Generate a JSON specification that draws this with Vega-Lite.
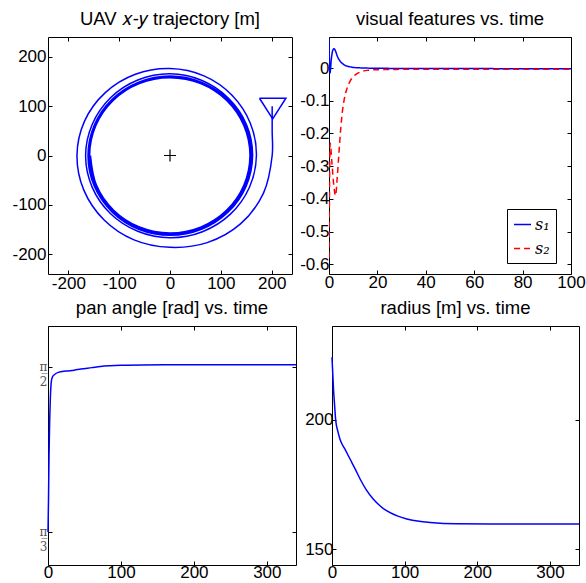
{
  "$schema": "https://vega.github.io/schema/vega-lite/v6.json",
  "padding": {"left": 0, "top": 9, "right": 0, "bottom": 0},
  "background": "white",
  "datasets": {
    "traj": [
      {"i":0,"x":201,"y":100},{"i":1,"x":201,"y":50},{"i":2,"x":201,"y":0},
      {"i":3,"x":183.9,"y":-76.2},{"i":4,"x":138.6,"y":-138.6},{"i":5,"x":73.1,"y":-176.5},{"i":6,"x":0,"y":-186},
      {"i":7,"x":-70.8,"y":-170.9},{"i":8,"x":-130.1,"y":-130.1},{"i":9,"x":-169.5,"y":-70.2},{"i":10,"x":-183,"y":0},
      {"i":11,"x":-168.1,"y":69.7},{"i":12,"x":-127.3,"y":127.3},{"i":13,"x":-68.1,"y":164.5},{"i":14,"x":0,"y":176},
      {"i":15,"x":66.8,"y":161.2},{"i":16,"x":122,"y":122},{"i":17,"x":158,"y":65.4},{"i":18,"x":170,"y":0},
      {"i":19,"x":156.1,"y":-64.7},{"i":20,"x":118.8,"y":-118.8},{"i":21,"x":63.9,"y":-154.3},{"i":22,"x":0,"y":-166.5},
      {"i":23,"x":-63.5,"y":-153.4},{"i":24,"x":-117.4,"y":-117.4},{"i":25,"x":-153.4,"y":-63.5},{"i":26,"x":-166,"y":0},
      {"i":27,"x":-152.9,"y":63.3},{"i":28,"x":-117,"y":117},{"i":29,"x":-63.3,"y":152.9},{"i":30,"x":0,"y":165.5},
      {"i":31,"x":63,"y":152},{"i":32,"x":115.6,"y":115.6},{"i":33,"x":150.6,"y":62.4},{"i":34,"x":162.5,"y":0},
      {"i":35,"x":149.9,"y":-62.1},{"i":36,"x":114.6,"y":-114.6},{"i":37,"x":62,"y":-149.6},{"i":38,"x":0,"y":-161.7},
      {"i":39,"x":-61.8,"y":-149.3},{"i":40,"x":-114.2,"y":-114.2},{"i":41,"x":-149.1,"y":-61.8},{"i":42,"x":-161.3,"y":0},
      {"i":43,"x":-148.9,"y":61.7},{"i":44,"x":-113.9,"y":113.9},{"i":45,"x":-61.6,"y":148.7},{"i":46,"x":0,"y":160.9},
      {"i":47,"x":61.5,"y":148.6},{"i":48,"x":113.6,"y":113.6},{"i":49,"x":148.4,"y":61.5},{"i":50,"x":160.5,"y":0},
      {"i":51,"x":148.2,"y":-61.4},{"i":52,"x":113.3,"y":-113.3},{"i":53,"x":61.3,"y":-148},{"i":54,"x":0,"y":-160.1},
      {"i":55,"x":-61.2,"y":-147.8},{"i":56,"x":-113.1,"y":-113.1},{"i":57,"x":-147.6,"y":-61.2},{"i":58,"x":-159.7,"y":0},
      {"i":59,"x":-147.5,"y":61.1},{"i":60,"x":-112.8,"y":112.8},{"i":61,"x":-61,"y":147.3},{"i":62,"x":0,"y":159.3},
      {"i":63,"x":60.9,"y":147.1},{"i":64,"x":112.5,"y":112.5},{"i":65,"x":146.9,"y":60.8},{"i":66,"x":158.9,"y":0},
      {"i":67,"x":146.7,"y":-60.8},{"i":68,"x":112.2,"y":-112.2},{"i":69,"x":60.7,"y":-146.5},{"i":70,"x":0,"y":-158.5},
      {"i":71,"x":-60.6,"y":-146.3},{"i":72,"x":-111.9,"y":-111.9},{"i":73,"x":-146.2,"y":-60.5},{"i":74,"x":-158.1,"y":0},
      {"i":75,"x":-146,"y":60.5},{"i":76,"x":-111.7,"y":111.7},{"i":77,"x":-60.4,"y":145.8},{"i":78,"x":0,"y":157.7},
      {"i":79,"x":60.3,"y":145.6},{"i":80,"x":111.4,"y":111.4},{"i":81,"x":145.4,"y":60.2},{"i":82,"x":157.3,"y":0},
      {"i":83,"x":145.2,"y":-60.2},{"i":84,"x":111.1,"y":-111.1},{"i":85,"x":60.1,"y":-145.1},{"i":86,"x":0,"y":-156.9},
      {"i":87,"x":-60,"y":-144.9},{"i":88,"x":-110.8,"y":-110.8},{"i":89,"x":-144.7,"y":-59.9},{"i":90,"x":-156.5,"y":0}
    ],
    "tri": [
      {"i":0,"x":176,"y":116},{"i":1,"x":228,"y":116},{"i":2,"x":202,"y":74},{"i":3,"x":176,"y":116}
    ],
    "center": [{"x":0,"y":0}],
    "feat": [
      {"t":0,"v":0.09,"s":"s₁"},{"t":0.4,"v":-0.015,"s":"s₁"},{"t":1,"v":0.03,"s":"s₁"},{"t":1.6,"v":0.055,"s":"s₁"},
      {"t":2.1,"v":0.059,"s":"s₁"},{"t":2.7,"v":0.052,"s":"s₁"},{"t":3.4,"v":0.037,"s":"s₁"},{"t":4.5,"v":0.022,"s":"s₁"},
      {"t":5.5,"v":0.014,"s":"s₁"},{"t":7,"v":0.007,"s":"s₁"},{"t":8.5,"v":0.004,"s":"s₁"},{"t":10,"v":0.002,"s":"s₁"},
      {"t":12,"v":0.001,"s":"s₁"},{"t":15,"v":0,"s":"s₁"},{"t":25,"v":-0.001,"s":"s₁"},{"t":50,"v":-0.0015,"s":"s₁"},
      {"t":100,"v":-0.002,"s":"s₁"},
      {"t":0,"v":-0.58,"s":"s₂"},{"t":0.5,"v":-0.23,"s":"s₂"},{"t":1.2,"v":-0.29,"s":"s₂"},{"t":2,"v":-0.36,"s":"s₂"},
      {"t":2.7,"v":-0.39,"s":"s₂"},{"t":3.4,"v":-0.335,"s":"s₂"},{"t":4.1,"v":-0.26,"s":"s₂"},{"t":4.8,"v":-0.19,"s":"s₂"},
      {"t":5.5,"v":-0.135,"s":"s₂"},{"t":6.2,"v":-0.1,"s":"s₂"},{"t":7.2,"v":-0.068,"s":"s₂"},{"t":8.3,"v":-0.046,"s":"s₂"},
      {"t":9.6,"v":-0.03,"s":"s₂"},{"t":11,"v":-0.02,"s":"s₂"},{"t":13,"v":-0.012,"s":"s₂"},{"t":16,"v":-0.007,"s":"s₂"},
      {"t":20,"v":-0.005,"s":"s₂"},{"t":30,"v":-0.004,"s":"s₂"},{"t":100,"v":-0.004,"s":"s₂"}
    ],
    "pan": [
      {"t":0,"v":1.047},{"t":0.7,"v":1.15},{"t":1.4,"v":1.29},{"t":2.3,"v":1.40},{"t":3.2,"v":1.47},{"t":4.5,"v":1.523},
      {"t":6,"v":1.538},{"t":9,"v":1.546},{"t":14,"v":1.553},{"t":25,"v":1.557},{"t":36,"v":1.56},{"t":45,"v":1.5635},
      {"t":60,"v":1.568},{"t":72,"v":1.5718},{"t":85,"v":1.574},{"t":100,"v":1.5755},{"t":130,"v":1.5765},{"t":200,"v":1.577},
      {"t":340,"v":1.577}
    ],
    "rad": [
      {"t":0,"r":224},{"t":1,"r":218},{"t":2,"r":212},{"t":3.2,"r":207},{"t":5,"r":200},{"t":8,"r":195.5},{"t":11,"r":192.4},
      {"t":18,"r":188.5},{"t":25,"r":184.7},{"t":32,"r":180.9},{"t":38.5,"r":177.2},{"t":47,"r":173},{"t":57,"r":169.3},
      {"t":66,"r":166.8},{"t":75,"r":164.9},{"t":89,"r":163},{"t":103,"r":161.7},{"t":120,"r":160.8},{"t":135,"r":160.4},
      {"t":171,"r":159.9},{"t":220,"r":159.8},{"t":340,"r":159.8}
    ]
  },
  "spacing": 6,
  "resolve": {"legend": {"color": "independent", "strokeDash": "independent"}},
  "vconcat": [
    {
      "spacing": 0,
      "resolve": {"legend": {"color": "independent", "strokeDash": "independent"}},
      "hconcat": [
        {
          "width": 244, "height": 237,
          "title": "UAV 𝑥-𝑦 trajectory [m]",
          "resolve": {"axis": {"x": "independent", "y": "independent"}},
          "layer": [
            {
              "data": {"name": "traj"},
              "mark": {"type": "line", "color": "#0000ff", "strokeWidth": 1.5, "interpolate": "catmull-rom"},
              "encoding": {
                "x": {"field": "x", "type": "quantitative", "scale": {"domain": [-240, 240], "nice": false, "zero": false},
                      "axis": {"title": null, "values": [-200, -100, 0, 100, 200], "labelExpr": "replace(datum.label, '−', '-')", "labelPadding": 5}},
                "y": {"field": "y", "type": "quantitative", "scale": {"domain": [-240, 240], "nice": false, "zero": false},
                      "axis": {"title": null, "values": [-200, -100, 0, 100, 200], "labelExpr": "replace(datum.label, '−', '-')", "labelPadding": 6, "minExtent": 46, "maxExtent": 46}},
                "order": {"field": "i", "type": "quantitative"}
              }
            },
            {
              "data": {"name": "tri"},
              "mark": {"type": "line", "color": "#0000ff", "strokeWidth": 1.5},
              "encoding": {
                "x": {"field": "x", "type": "quantitative", "axis": null},
                "y": {"field": "y", "type": "quantitative", "axis": null},
                "order": {"field": "i", "type": "quantitative"}
              }
            },
            {
              "data": {"name": "center"},
              "mark": {"type": "point", "shape": "M-1,0H1M0,-1V1", "size": 144, "filled": false, "stroke": "black", "strokeWidth": 1.2, "opacity": 1},
              "encoding": {
                "x": {"field": "x", "type": "quantitative", "axis": null},
                "y": {"field": "y", "type": "quantitative", "axis": null}
              }
            },
            {
              "data": {"name": "traj"},
              "mark": {"type": "line", "strokeOpacity": 0},
              "encoding": {
                "x": {"field": "x", "type": "quantitative", "axis": {"orient": "top", "labels": false, "title": null, "values": [-200, -100, 0, 100, 200], "minExtent": 0, "maxExtent": 0}},
                "y": {"field": "y", "type": "quantitative", "axis": {"orient": "right", "labels": false, "title": null, "values": [-200, -100, 0, 100, 200], "minExtent": 0, "maxExtent": 0}}
              }
            }
          ]
        },
        {
          "width": 242, "height": 237,
          "title": "visual features vs. time",
          "resolve": {"axis": {"x": "independent", "y": "independent"}},
          "layer": [
            {
              "data": {"name": "feat"},
              "mark": {"type": "line", "strokeWidth": 1.5, "interpolate": "monotone", "clip": true},
              "encoding": {
                "x": {"field": "t", "type": "quantitative", "scale": {"domain": [0, 100], "nice": false, "zero": false},
                      "axis": {"title": null, "values": [0, 20, 40, 60, 80, 100], "labelPadding": 4}},
                "y": {"field": "v", "type": "quantitative", "scale": {"domain": [-0.63, 0.095], "nice": false, "zero": false},
                      "axis": {"title": null, "values": [0, -0.1, -0.2, -0.3, -0.4, -0.5, -0.6], "labelExpr": "replace(format(datum.value, ''), '−', '-')", "labelPadding": 4, "minExtent": 35, "maxExtent": 35}},
                "color": {"field": "s", "type": "nominal", "scale": {"domain": ["s₁", "s₂"], "range": ["#0000ff", "#ff0000"]},
                          "legend": {"title": null, "orient": "none", "legendX": 178, "legendY": 172, "strokeColor": "black", "fillColor": "white", "padding": 6, "cornerRadius": 0,
                                     "symbolType": "stroke", "symbolSize": 289, "symbolStrokeWidth": 1.5, "labelFont": "DejaVu Serif", "labelFontStyle": "italic", "labelFontSize": 16, "labelColor": "black", "rowPadding": 6, "labelOffset": 3}},
                "strokeDash": {"field": "s", "type": "nominal", "scale": {"domain": ["s₁", "s₂"], "range": [[1, 0], [6, 4]]},
                          "legend": {"title": null, "orient": "none", "legendX": 178, "legendY": 172, "strokeColor": "black", "fillColor": "white", "padding": 6, "cornerRadius": 0,
                                     "symbolType": "stroke", "symbolSize": 289, "symbolStrokeWidth": 1.5, "labelFont": "DejaVu Serif", "labelFontStyle": "italic", "labelFontSize": 16, "labelColor": "black", "rowPadding": 6, "labelOffset": 3}}
              }
            },
            {
              "data": {"name": "feat"},
              "mark": {"type": "line", "strokeOpacity": 0},
              "encoding": {
                "x": {"field": "t", "type": "quantitative", "axis": {"orient": "top", "labels": false, "title": null, "values": [0, 20, 40, 60, 80, 100], "minExtent": 0, "maxExtent": 0}},
                "y": {"field": "v", "type": "quantitative", "axis": {"orient": "right", "labels": false, "title": null, "values": [0, -0.1, -0.2, -0.3, -0.4, -0.5, -0.6], "minExtent": 0, "maxExtent": 0}}
              }
            }
          ]
        }
      ]
    },
    {
      "spacing": 0,
      "hconcat": [
        {
          "width": 248, "height": 239,
          "title": "pan angle [rad] vs. time",
          "resolve": {"axis": {"x": "independent", "y": "independent"}},
          "layer": [
            {
              "data": {"name": "pan"},
              "mark": {"type": "line", "color": "#0000ff", "strokeWidth": 1.5, "interpolate": "monotone"},
              "encoding": {
                "x": {"field": "t", "type": "quantitative", "scale": {"domain": [0, 340], "nice": false, "zero": false},
                      "axis": {"title": null, "values": [0, 100, 200, 300], "labelPadding": 3}},
                "y": {"field": "v", "type": "quantitative", "scale": {"domain": [0.942, 1.70], "nice": false, "zero": false},
                      "axis": {"title": null, "values": [1.0471975511965976, 1.5707963267948966],
                               "labelExpr": "datum.value < 1.3 ? ['π̲', '3'] : ['π̲', '2']",
                               "labelFont": "DejaVu Serif", "labelFontSize": 12, "labelColor": "#555555", "labelLineHeight": 15, "labelPadding": 5, "minExtent": 47, "maxExtent": 47}}
              }
            },
            {
              "data": {"name": "pan"},
              "mark": {"type": "line", "strokeOpacity": 0},
              "encoding": {
                "x": {"field": "t", "type": "quantitative", "axis": {"orient": "top", "labels": false, "title": null, "values": [0, 100, 200, 300], "minExtent": 0, "maxExtent": 0}},
                "y": {"field": "v", "type": "quantitative", "axis": {"orient": "right", "labels": false, "title": null, "values": [1.0471975511965976, 1.5707963267948966], "minExtent": 0, "maxExtent": 0}}
              }
            }
          ]
        },
        {
          "width": 247, "height": 239,
          "title": "radius [m] vs. time",
          "resolve": {"axis": {"x": "independent", "y": "independent"}},
          "layer": [
            {
              "data": {"name": "rad"},
              "mark": {"type": "line", "color": "#0000ff", "strokeWidth": 1.5, "interpolate": "monotone"},
              "encoding": {
                "x": {"field": "t", "type": "quantitative", "scale": {"domain": [0, 340], "nice": false, "zero": false},
                      "axis": {"title": null, "values": [0, 100, 200, 300], "labelPadding": 3}},
                "y": {"field": "r", "type": "quantitative", "scale": {"domain": [144, 236], "nice": false, "zero": false},
                      "axis": {"title": null, "values": [150, 200], "labelPadding": 3, "minExtent": 31, "maxExtent": 31}}
              }
            },
            {
              "data": {"name": "rad"},
              "mark": {"type": "line", "strokeOpacity": 0},
              "encoding": {
                "x": {"field": "t", "type": "quantitative", "axis": {"orient": "top", "labels": false, "title": null, "values": [0, 100, 200, 300], "minExtent": 0, "maxExtent": 0}},
                "y": {"field": "r", "type": "quantitative", "axis": {"orient": "right", "labels": false, "title": null, "values": [150, 200], "minExtent": 0, "maxExtent": 0}}
              }
            }
          ]
        }
      ]
    }
  ],
  "config": {
    "view": {"stroke": "black", "strokeWidth": 1},
    "axis": {"grid": false, "domain": false, "tickColor": "black", "tickSize": -4, "tickWidth": 1,
             "labelFont": "Liberation Sans", "labelFontSize": 17, "labelColor": "black", "labelFlush": false, "labelOverlap": false},
    "title": {"font": "Liberation Sans", "fontSize": 18.5, "fontWeight": "normal", "color": "black", "offset": 8},
    "legend": {"symbolType": "stroke"}
  }
}
